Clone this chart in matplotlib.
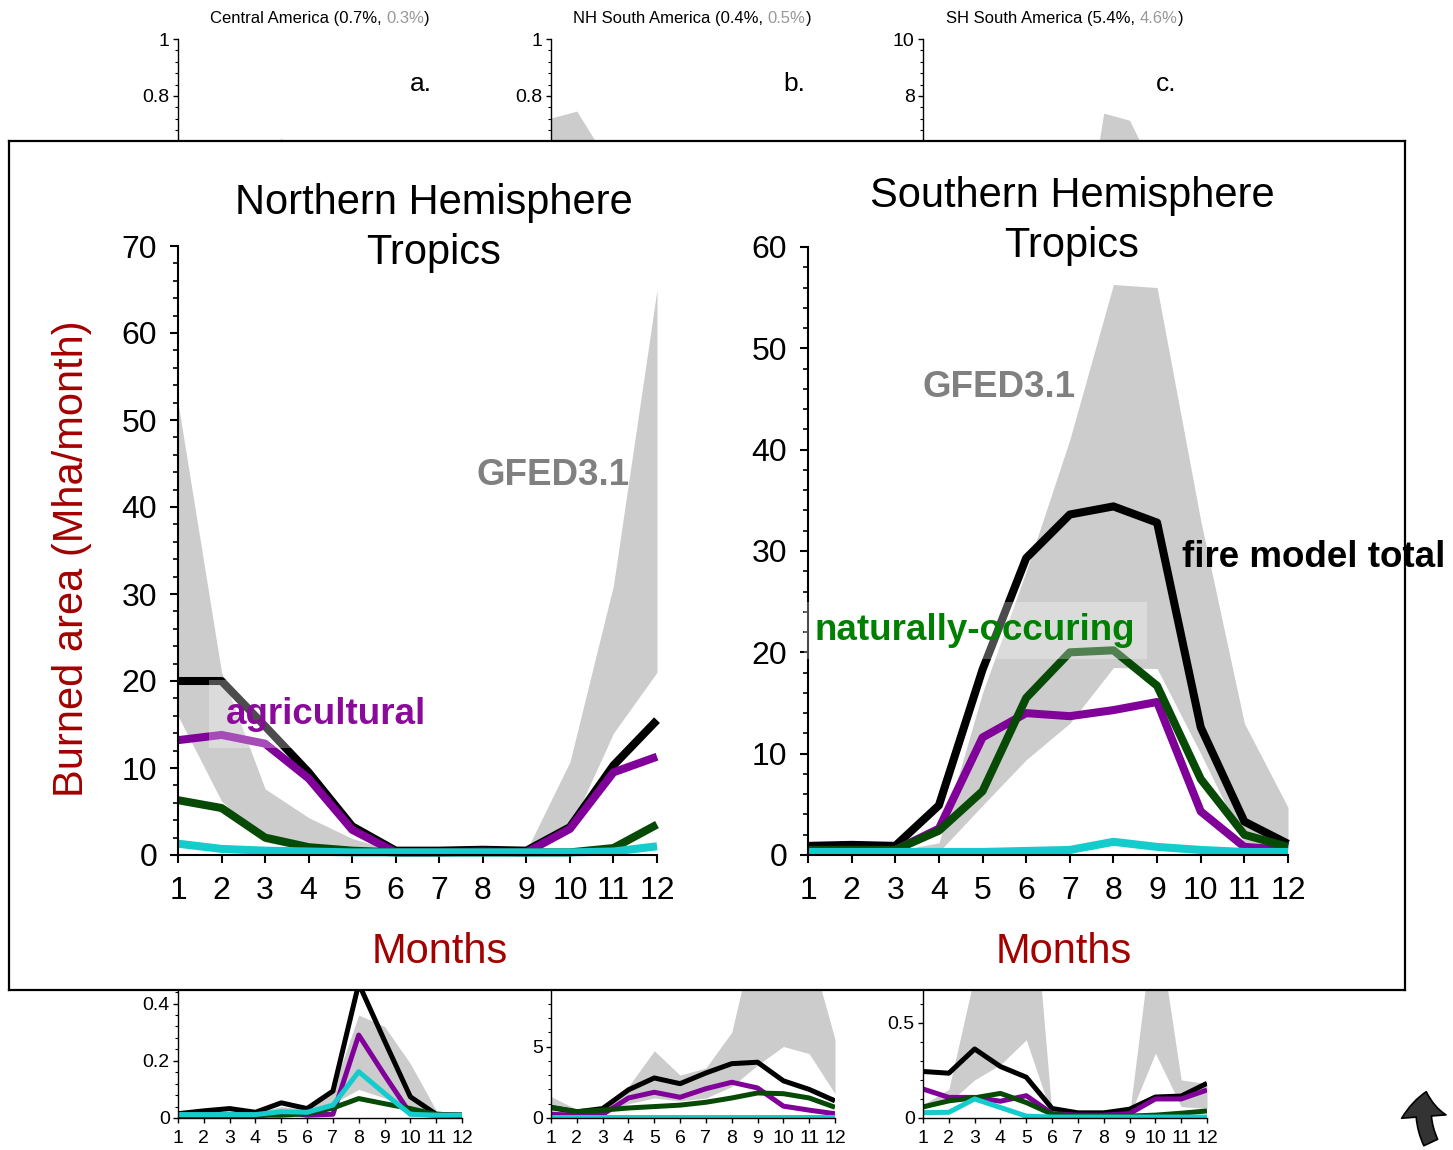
import matplotlib.pyplot as plt
import numpy as np
from matplotlib.patches import FancyArrowPatch
from matplotlib.ticker import AutoMinorLocator, FormatStrFormatter

meses = np.arange(1, 13)

# Northern Hemisphere Tropics (Mha/month)
nh_total = [20.0, 20.0, 14.8, 9.5, 3.3, 0.5, 0.5, 0.6, 0.5, 3.2, 10.3, 15.5]
nh_agri = [13.2, 13.8, 12.8, 8.8, 2.9, 0.3, 0.3, 0.4, 0.3, 3.0, 9.5, 11.3]
nh_natural = [6.3, 5.4, 2.0, 0.9, 0.5, 0.3, 0.3, 0.3, 0.3, 0.3, 0.8, 3.5]
nh_otro = [1.3, 0.7, 0.5, 0.4, 0.3, 0.3, 0.3, 0.3, 0.3, 0.3, 0.4, 1.0]
nh_gfed_min = [16.0, 6.2, 1.5, 0.5, 0.2, 0.0, 0.0, 0.0, 0.0, 3.0, 14.0, 21.0]
nh_gfed_max = [52.0, 21.0, 7.6, 4.3, 1.9, 0.4, 0.4, 0.5, 0.5, 10.7, 31.0, 65.0]

# Southern Hemisphere Tropics (Mha/month)
sh_total = [0.9, 1.0, 0.9, 4.9, 18.3, 29.3, 33.6, 34.4, 32.8, 12.6, 3.3, 1.1]
sh_agri = [0.5, 0.5, 0.5, 2.6, 11.6, 14.0, 13.7, 14.3, 15.1, 4.3, 0.8, 0.5]
sh_natural = [0.5, 0.5, 0.5, 2.4, 6.3, 15.5, 20.0, 20.2, 16.7, 7.5, 2.0, 0.8]
sh_otro = [0.3, 0.3, 0.3, 0.3, 0.3, 0.4, 0.5, 1.3, 0.8, 0.5, 0.3, 0.3]
sh_gfed_min = [0.2, 0.2, 0.2, 0.3, 4.9, 9.4, 13.0, 18.5, 18.4, 10.0, 1.2, 0.5]
sh_gfed_max = [0.4, 0.4, 0.4, 1.2, 16.0, 28.0, 41.0, 56.3, 56.0, 33.0, 13.0, 4.7]

# paneles pequenos de fondo, fila de arriba (solo se ve la parte alta)
titulos_arriba = [('Central America (0.7%, ', '0.3%', ')'),
                  ('NH South America (0.4%, ', '0.5%', ')'),
                  ('SH South America (5.4%, ', '4.6%', ')')]
letras_arriba = ['a.', 'b.', 'c.']
ymax_arriba = [1, 1, 10]
yticks_arriba = [[0.8, 1], [0.8, 1], [8, 10]]
ca_gfed_min = [0.0, 0.0, 0.02, 0.1, 0.3, 0.2, 0.1, 0.1, 0.1, 0.05, 0.0, 0.0]
ca_gfed_max = [0.02, 0.02, 0.05, 0.3, 0.655, 0.35, 0.2, 0.3, 0.25, 0.1, 0.03, 0.02]
nsa_gfed_min = [0.3, 0.3, 0.2, 0.1, 0.05, 0.02, 0.02, 0.02, 0.05, 0.1, 0.2, 0.3]
nsa_gfed_max = [0.723, 0.747, 0.6, 0.4, 0.2, 0.1, 0.1, 0.1, 0.15, 0.3, 0.5, 0.6]
ssa_gfed_min = [0.1, 0.1, 0.1, 0.2, 0.4, 0.8, 1.0, 3.0, 3.0, 2.0, 0.5, 0.2]
ssa_gfed_max = [0.5, 0.3, 0.2, 0.5, 1.0, 1.8, 1.8, 7.4, 7.15, 5.3, 2.0, 0.8]

# fila de abajo (solo se ve la parte baja)
ymax_abajo = [0.5, 10, 0.75]
yticks_abajo = [[0, 0.2, 0.4], [0, 5], [0, 0.5]]
b1_total = [0.015, 0.025, 0.033, 0.02, 0.053, 0.033, 0.094, 0.47, 0.27, 0.074, 0.013, 0.01]
b1_agri = [0.005, 0.005, 0.005, 0.005, 0.02, 0.01, 0.013, 0.29, 0.15, 0.015, 0.01, 0.01]
b1_natural = [0.01, 0.01, 0.01, 0.01, 0.01, 0.015, 0.035, 0.068, 0.05, 0.033, 0.012, 0.01]
b1_otro = [0.012, 0.012, 0.012, 0.012, 0.022, 0.02, 0.045, 0.162, 0.086, 0.013, 0.01, 0.01]
b1_gfed_min = [0.005, 0.005, 0.005, 0.005, 0.01, 0.01, 0.05, 0.1, 0.07, 0.03, 0.01, 0.005]
b1_gfed_max = [0.015, 0.02, 0.025, 0.02, 0.04, 0.03, 0.1, 0.36, 0.32, 0.19, 0.027, 0.01]

b2_total = [0.73, 0.43, 0.66, 1.97, 2.8, 2.4, 3.15, 3.8, 3.9, 2.6, 2.0, 1.2]
b2_agri = [0.25, 0.2, 0.25, 1.4, 1.8, 1.45, 2.05, 2.5, 2.1, 0.83, 0.55, 0.3]
b2_natural = [0.75, 0.45, 0.55, 0.7, 0.8, 0.9, 1.1, 1.4, 1.75, 1.7, 1.4, 0.75]
b2_otro = [0.1, 0.1, 0.1, 0.1, 0.1, 0.1, 0.1, 0.1, 0.1, 0.1, 0.1, 0.1]
b2_gfed_min = [0.4, 0.3, 0.4, 1.0, 1.4, 1.2, 1.4, 2.2, 3.7, 5.0, 4.5, 1.7]
b2_gfed_max = [1.5, 0.6, 0.8, 2.2, 4.7, 3.0, 3.5, 6.0, 13.7, 14.0, 12.0, 5.5]

b3_total = [0.244, 0.235, 0.362, 0.27, 0.214, 0.05, 0.027, 0.027, 0.046, 0.11, 0.115, 0.182]
b3_agri = [0.152, 0.108, 0.108, 0.088, 0.117, 0.023, 0.015, 0.015, 0.023, 0.1, 0.1, 0.147]
b3_natural = [0.058, 0.09, 0.106, 0.129, 0.081, 0.02, 0.01, 0.01, 0.01, 0.015, 0.025, 0.037]
b3_otro = [0.028, 0.03, 0.1, 0.055, 0.01, 0.005, 0.005, 0.005, 0.005, 0.005, 0.005, 0.005]
b3_gfed_min = [0.05, 0.08, 0.2, 0.28, 0.41, 0.01, 0.01, 0.01, 0.01, 0.34, 0.06, 0.05]
b3_gfed_max = [0.07, 0.15, 0.75, 1.2, 1.6, 0.02, 0.02, 0.02, 0.02, 1.1, 0.2, 0.18]

plt.rcParams['font.family'] = 'Liberation Sans'

NEGRO = '#000000'
MORADO = '#800099'
VERDE = '#064a06'
CIAN = '#14cccc'
GRIS = '#cccccc'
ROJO = '#a30000'

W, H = 1453, 1150
fig = plt.figure(figsize=(W / 100, H / 100), dpi=100)


def fx(px):
    return px / W


def fy(py):
    return 1 - py / H


def crear_ejes(x0, y0, x1, y1, z):
    return fig.add_axes([fx(x0), fy(y1), (x1 - x0) / W, (y1 - y0) / H], zorder=z)


def estilo(ax, ymax, yticks, fs, lw_eje, largo, pad):
    ax.set_xlim(1, 12)
    ax.set_ylim(0, ymax)
    ax.set_facecolor('none')
    ax.spines['top'].set_visible(False)
    ax.spines['right'].set_visible(False)
    ax.spines['left'].set_linewidth(lw_eje)
    ax.spines['bottom'].set_linewidth(lw_eje)
    ax.set_xticks(meses)
    ax.set_yticks(yticks)
    ax.yaxis.set_minor_locator(AutoMinorLocator(5))
    ax.yaxis.set_major_formatter(FormatStrFormatter('%g'))
    ax.tick_params(direction='out', length=largo, width=lw_eje, pad=pad, labelsize=fs)
    ax.tick_params(which='minor', direction='out', length=largo * 0.55, width=lw_eje * 0.8)


def dibujar(ax, gmin, gmax, series, lw, recortar=True):
    ax.fill_between(meses, gmin, gmax, color=GRIS, lw=0, zorder=1)
    for datos, color in zip(series, [NEGRO, MORADO, VERDE, CIAN]):
        ax.plot(meses, datos, color=color, lw=lw, solid_capstyle='butt',
                clip_on=recortar, zorder=2)


# fila de arriba
x_arriba = [178, 551, 923]
x_titulos = [210, 573, 946]
gfed_arriba = [(ca_gfed_min, ca_gfed_max), (nsa_gfed_min, nsa_gfed_max), (ssa_gfed_min, ssa_gfed_max)]
for i, x0 in enumerate(x_arriba):
    ax = crear_ejes(x0, 39, x0 + 284, 324, 1)
    estilo(ax, ymax_arriba[i], yticks_arriba[i], 14, 1.0, 3.5, 2.5)
    ax.tick_params(axis='x', labelbottom=False)
    ax.fill_between(meses, gfed_arriba[i][0], gfed_arriba[i][1], color=GRIS, lw=0)
    negro, gris, cierre = titulos_arriba[i]
    t1 = fig.text(fx(x_titulos[i]), fy(23), negro, fontsize=12, va='baseline', zorder=10)
    t2 = ax.annotate(gris, xy=(1, 0), xycoords=t1, va='bottom', fontsize=12,
                     color='#999999', annotation_clip=False)
    ax.annotate(cierre, xy=(1, 0), xycoords=t2, va='bottom', fontsize=12,
                annotation_clip=False)
    fig.text(fx(x0 + 243), fy(91), letras_arriba[i], fontsize=19,
             ha='center', va='baseline', zorder=10)

# fila de abajo
x_abajo = [178, 551, 923]
series_abajo = [
    (b1_gfed_min, b1_gfed_max, [b1_total, b1_agri, b1_natural, b1_otro]),
    (b2_gfed_min, b2_gfed_max, [b2_total, b2_agri, b2_natural, b2_otro]),
    (b3_gfed_min, b3_gfed_max, [b3_total, b3_agri, b3_natural, b3_otro]),
]
for i, x0 in enumerate(x_abajo):
    ax = crear_ejes(x0, 1118 - 143, x0 + 284, 1118, 1)
    estilo(ax, ymax_abajo[i], yticks_abajo[i], 14, 1.0, 3.5, 2.5)
    ax.tick_params(axis='x', pad=5)
    gmin, gmax, series = series_abajo[i]
    dibujar(ax, gmin, gmax, series, 3.6)

# recuadro blanco encima
caja = crear_ejes(9, 141, 1405, 990, 2)
caja.set_xticks([])
caja.set_yticks([])
caja.set_facecolor('white')
for lado in caja.spines.values():
    lado.set_linewidth(1.6)

# paneles grandes
ax_nh = crear_ejes(178, 246, 657, 855, 3)
estilo(ax_nh, 70, np.arange(0, 71, 10), 23, 1.5, 6, 9)
dibujar(ax_nh, nh_gfed_min, nh_gfed_max, [nh_total, nh_agri, nh_natural, nh_otro], 5.8, False)

ax_sh = crear_ejes(808, 247, 1288, 855, 3)
estilo(ax_sh, 60, np.arange(0, 61, 10), 23, 1.5, 6, 9)
dibujar(ax_sh, sh_gfed_min, sh_gfed_max, [sh_total, sh_agri, sh_natural, sh_otro], 5.8, False)

ax_nh.text(9.61, 42.5, 'GFED3.1', color='#808080', fontsize=26.5, fontweight='bold',
           ha='center', va='baseline', zorder=5)
ax_sh.text(5.38, 45.2, 'GFED3.1', color='#808080', fontsize=26.5, fontweight='bold',
           ha='center', va='baseline', zorder=5)
ax_nh.text(2.10, 15.1, 'agricultural', color='#8a0a9a', fontsize=26.5, fontweight='bold',
           ha='left', va='baseline', zorder=5,
           bbox=dict(boxstyle='square,pad=0.45', fc='white', ec='none', alpha=0.3))
ax_sh.text(1.16, 21.2, 'naturally-occuring', color='#008000', fontsize=26.5, fontweight='bold',
           ha='left', va='baseline', zorder=5,
           bbox=dict(boxstyle='square,pad=0.3', fc='white', ec='none', alpha=0.3))
ax_sh.text(9.58, 28.4, 'fire model total', color=NEGRO, fontsize=26.5, fontweight='bold',
           ha='left', va='baseline', zorder=5, clip_on=False)

fig.text(fx(434), fy(214), 'Northern Hemisphere', fontsize=30, ha='center', va='baseline', zorder=10)
fig.text(fx(434), fy(264), 'Tropics', fontsize=30, ha='center', va='baseline', zorder=10)
fig.text(fx(1072), fy(207), 'Southern Hemisphere', fontsize=30, ha='center', va='baseline', zorder=10)
fig.text(fx(1072), fy(257), 'Tropics', fontsize=30, ha='center', va='baseline', zorder=10)
fig.text(fx(440), fy(963), 'Months', fontsize=30, color=ROJO, ha='center', va='baseline', zorder=10)
fig.text(fx(1064), fy(963), 'Months', fontsize=30, color=ROJO, ha='center', va='baseline', zorder=10)
fig.text(fx(72), fy(559), 'Burned area (Mha/month)', fontsize=30, color=ROJO, rotation=90,
         ha='center', va='center', zorder=10)

flecha = FancyArrowPatch((fx(1432), fy(1145)), (fx(1427), fy(1089)), transform=fig.transFigure,
                         arrowstyle='simple,head_length=18,head_width=32,tail_width=11',
                         connectionstyle='arc3,rad=-0.2', mutation_scale=1,
                         fc='#333333', ec='black', lw=1.2, zorder=10)
fig.add_artist(flecha)

fig.savefig('out.png', dpi=100)
